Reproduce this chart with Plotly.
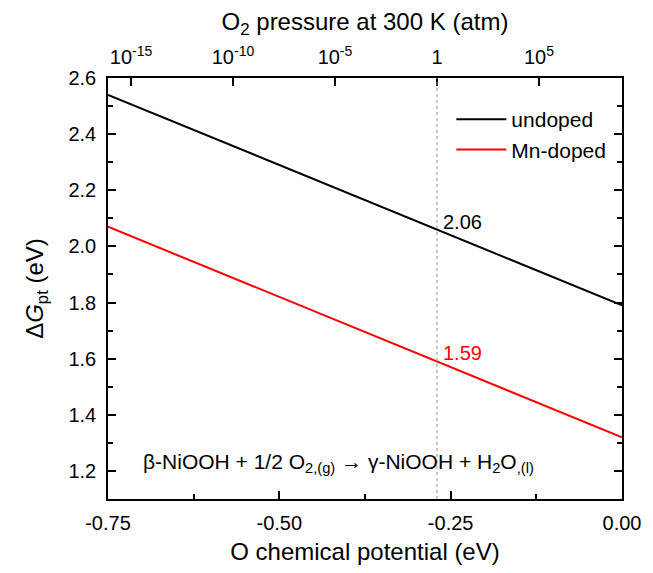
import numpy as np
import plotly.graph_objects as go

# ---- data ----
mu_O = [-0.75, 0.00]                 # O chemical potential (eV)
dG_undoped = [2.54, 1.79]            # eV
dG_mn = [2.07, 1.32]                 # eV
mu_ref = -0.27                       # chemical potential at 1 atm, 300 K
val_undoped = 2.06
val_mn = 1.59
x_ticks = [-0.75, -0.50, -0.25, 0.00]
p_exponents = [-15, -10, -5, 0, 5]   # O2 pressure decades (atm)
p_labels = ["10<sup>-15</sup>", "10<sup>-10</sup>", "10<sup>-5</sup>", "1", "10<sup>5</sup>"]

kT = 8.617333e-5 * 300
p_pos = [mu_ref + 0.5 * kT * np.log(10) * e for e in p_exponents]
x_ticktext = [f"{v:.2f}" for v in x_ticks]

FONT = "Liberation Sans, Arial, sans-serif"

fig = go.Figure()
fig.add_trace(go.Scatter(x=mu_O, y=dG_undoped, mode="lines", name="undoped",
                         line=dict(color="black", width=2)))
fig.add_trace(go.Scatter(x=mu_O, y=dG_mn, mode="lines", name="Mn-doped",
                         line=dict(color="red", width=2)))
# invisible trace to activate the top axis
fig.add_trace(go.Scatter(x=mu_O, y=dG_undoped, xaxis="x2", mode="lines",
                         line=dict(width=0), showlegend=False, hoverinfo="skip",
                         opacity=0))

fig.add_shape(type="line", x0=mu_ref, x1=mu_ref, y0=0, y1=1, yref="paper",
              line=dict(color="#909090", width=1, dash="dot"))

fig.add_annotation(x=mu_ref, y=val_undoped, text=f"{val_undoped:.2f}", showarrow=False,
                   xanchor="left", yanchor="middle", xshift=4, yshift=8,
                   font=dict(size=20, color="black", family=FONT))
fig.add_annotation(x=mu_ref, y=val_mn, text=f"{val_mn:.2f}", showarrow=False,
                   xanchor="left", yanchor="middle", xshift=4, yshift=8,
                   font=dict(size=20, color="red", family=FONT))
fig.add_annotation(x=0.065, y=1.23, xref="paper", yref="y",
                   text="β-NiOOH + 1/2 O<sub>2,(g)</sub> → γ-NiOOH + H<sub>2</sub>O<sub>,(l)</sub>",
                   showarrow=False, xanchor="left", yanchor="middle",
                   font=dict(size=21, color="black", family=FONT))

axis_common = dict(showline=True, linecolor="black", linewidth=1.5, showgrid=False,
                   zeroline=False, ticks="inside", tickcolor="black",
                   tickfont=dict(size=20, family=FONT, color="black"))

# page body has an 8px default margin: compensate so the plot box lands at 108..629 x 75..502
fig.update_layout(
    width=645, height=565,
    margin=dict(l=100, r=24, t=67, b=71),
    paper_bgcolor="white", plot_bgcolor="white",
    font=dict(family=FONT, color="black"),
    showlegend=True,
    legend=dict(x=0.668, y=0.95, xanchor="left", yanchor="top",
                bgcolor="rgba(0,0,0,0)", font=dict(size=21, family=FONT),
                tracegroupgap=0, itemwidth=50),
    xaxis=dict(**axis_common, range=[-0.75, 0.0], tickmode="array",
               tickvals=x_ticks, ticktext=x_ticktext,
               ticklen=8, tickwidth=1.5, mirror=True, ticklabelstandoff=5,
               minor=dict(dtick=0.125, tick0=-0.75, ticks="inside", ticklen=5,
                          tickcolor="black", tickwidth=1.5),
               title=dict(text="O chemical potential (eV)", font=dict(size=24, family=FONT), standoff=10)),
    xaxis2=dict(**axis_common, range=[-0.75, 0.0], overlaying="x", side="top",
                tickmode="array", tickvals=p_pos, ticktext=p_labels, ticklen=8, tickwidth=1.5,
                ticklabelstandoff=4,
                title=dict(text="O<sub>2</sub> pressure at 300 K (atm)", font=dict(size=24, family=FONT), standoff=6)),
    yaxis=dict(**axis_common, range=[1.1, 2.6], dtick=0.2, tick0=1.2,
               tickformat=".1f", ticklen=8, tickwidth=1.5, mirror="ticks", ticklabelstandoff=6,
               minor=dict(dtick=0.1, ticks="inside", ticklen=5, tickcolor="black", tickwidth=1.5),
               title=dict(text="Δ<i>G</i><sub>pt</sub> (eV)", font=dict(size=24, family=FONT), standoff=18)),
)

fig.write_html("out.html")
